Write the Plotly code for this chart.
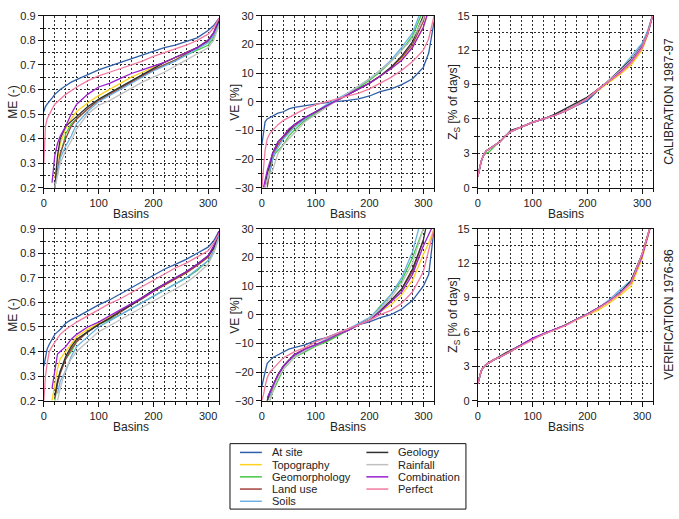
import plotly.graph_objects as go

N = None
BASINS = [0, 3, 6, 10, 15, 20, 25, 30, 40, 50, 60, 80, 100, 120, 140, 160, 180, 200, 220, 240, 260, 280, 300, 310, 320]

SERIES = ["At site", "Topography", "Geomorphology", "Land use", "Soils",
          "Geology", "Rainfall", "Combination", "Perfect"]
COLORS = ["#2e5ea8", "#ffd21f", "#44c744", "#a3423c", "#6cb0e6",
          "#303030", "#c0c0c0", "#9b1fd0", "#f47aa0"]

ME_CAL = {
    "At site":       [0.51, 0.53, 0.54, 0.55, 0.565, 0.58, 0.59, 0.60, 0.615, 0.63, 0.64, 0.66, 0.68, 0.695, 0.71, 0.725, 0.74, 0.755, 0.77, 0.78, 0.795, 0.81, 0.84, 0.86, 0.89],
    "Topography":    [N, N, N, N, N, 0.24, 0.32, 0.38, 0.44, 0.48, 0.51, 0.545, 0.575, 0.60, 0.625, 0.65, 0.67, 0.69, 0.71, 0.73, 0.75, 0.77, 0.80, 0.83, 0.88],
    "Geomorphology": [N, N, N, N, N, N, 0.25, 0.33, 0.42, 0.46, 0.48, 0.52, 0.56, 0.585, 0.61, 0.635, 0.66, 0.68, 0.70, 0.72, 0.74, 0.76, 0.78, 0.81, 0.86],
    "Land use":      [N, N, N, N, N, 0.20, 0.28, 0.34, 0.40, 0.45, 0.48, 0.52, 0.555, 0.58, 0.605, 0.63, 0.655, 0.68, 0.70, 0.72, 0.745, 0.77, 0.795, 0.82, 0.88],
    "Soils":         [N, N, N, N, N, 0.20, 0.26, 0.32, 0.37, 0.41, 0.46, 0.51, 0.55, 0.575, 0.60, 0.625, 0.65, 0.675, 0.695, 0.715, 0.74, 0.765, 0.79, 0.82, 0.87],
    "Geology":       [N, N, N, N, N, 0.20, 0.33, 0.40, 0.45, 0.47, 0.49, 0.53, 0.56, 0.585, 0.61, 0.635, 0.66, 0.685, 0.71, 0.73, 0.75, 0.77, 0.80, 0.83, 0.88],
    "Rainfall":      [N, N, N, N, N, 0.20, 0.25, 0.30, 0.35, 0.39, 0.44, 0.50, 0.535, 0.555, 0.58, 0.605, 0.63, 0.65, 0.67, 0.695, 0.72, 0.745, 0.77, 0.80, 0.86],
    "Combination":   [N, N, N, N, 0.22, 0.33, 0.38, 0.41, 0.45, 0.50, 0.54, 0.58, 0.61, 0.625, 0.645, 0.665, 0.68, 0.695, 0.71, 0.73, 0.75, 0.77, 0.80, 0.83, 0.89],
    "Perfect":       [0.30, 0.45, 0.48, 0.50, 0.52, 0.54, 0.55, 0.56, 0.58, 0.595, 0.61, 0.635, 0.655, 0.67, 0.685, 0.70, 0.715, 0.735, 0.75, 0.765, 0.78, 0.80, 0.825, 0.85, 0.89],
}

VE_CAL = {
    "At site":       [-15, -10, -7, -6, -5.5, -5, -4.5, -4, -3.5, -2.5, -2, -1.3, -0.8, -0.3, 0, 0.5, 1, 2, 3.5, 4.5, 6, 8, 12, 17, 28],
    "Topography":    [N, N, N, -28, -23, -19, -16.5, -15, -12.5, -10.5, -8.5, -6, -3.5, -1.5, 0.5, 2.5, 4.5, 6.5, 9, 11.5, 15, 19, 26, 32, N],
    "Geomorphology": [N, N, N, -29, -25, -20, -18, -17, -15, -12, -10, -6.5, -4, -1.5, 0.8, 3, 5, 7.5, 10.5, 14, 18, 23, 32, N, N],
    "Land use":      [N, N, N, -30, -24, -20, -17, -15, -12.5, -10.5, -8.5, -5.8, -3.5, -1.5, 0.5, 2.5, 4.5, 6.5, 9, 12, 15.5, 20, 28, 36, N],
    "Soils":         [N, N, N, -28, -24, -20, -17.5, -16, -13, -11, -9, -6, -3.5, -1, 1, 3, 5.5, 8, 11, 14.5, 19, 24, 34, N, N],
    "Geology":       [N, N, -30, -25, -22, -18, -16, -14, -12, -10, -8, -5.5, -3.5, -1.5, 0.5, 2.5, 4.5, 6.5, 9, 12, 16, 21, 30, 40, N],
    "Rainfall":      [N, N, -30, -27, -25, -24, -21, -18, -15, -13, -11, -7, -4.5, -2, 0.5, 3, 5.5, 8, 11, 14, 18, 22, 29, 36, N],
    "Combination":   [N, -30, -27, -24, -21, -18, -16, -14, -12, -9.5, -8, -5.5, -3.5, -1.5, 0.5, 2.5, 4.5, 6.5, 9, 11.5, 14.5, 19, 26, 32, N],
    "Perfect":       [-30, -22, -17, -13, -11, -10, -9, -8, -6.5, -5.5, -4.5, -2.5, -1, 0, 1, 1.8, 3, 4.5, 6.5, 8.5, 11, 14, 18, 22, 30],
}

ZS_CAL = {
    "At site":       [1.0, 1.7, 2.3, 2.8, 3.2, 3.35, 3.5, 3.65, 4.0, 4.5, 4.9, 5.3, 5.75, 5.95, 6.3, 6.7, 7.15, 7.6, 8.5, 9.3, 10.1, 11.1, 12.5, 13.6, 15.2],
    "Topography":    [1.0, 1.7, 2.3, 2.8, 3.2, 3.35, 3.5, 3.65, 4.0, 4.5, 4.9, 5.3, 5.7, 6.0, 6.3, 6.7, 7.2, 7.8, 8.5, 9.2, 9.9, 10.7, 12.0, 13.3, 15.2],
    "Geomorphology": [1.0, 1.7, 2.3, 2.8, 3.0, 3.1, 3.4, 3.6, 4.0, 4.5, 4.9, 5.3, 5.7, 6.0, 6.3, 6.7, 7.2, 7.8, 8.6, 9.3, 10.1, 11.0, 12.3, 13.4, 15.2],
    "Land use":      [1.0, 1.7, 2.3, 2.8, 3.2, 3.35, 3.5, 3.65, 4.0, 4.5, 4.9, 5.3, 5.7, 6.0, 6.3, 6.7, 7.2, 7.8, 8.6, 9.3, 10.0, 10.9, 12.2, 13.4, 15.2],
    "Soils":         [1.0, 1.7, 2.3, 2.8, 3.2, 3.35, 3.5, 3.65, 4.0, 4.5, 4.9, 5.3, 5.7, 6.0, 6.3, 6.7, 7.2, 7.8, 8.6, 9.4, 10.3, 11.4, 12.6, 13.7, 15.2],
    "Geology":       [1.0, 1.7, 2.3, 2.8, 3.2, 3.35, 3.5, 3.65, 4.0, 4.5, 5.0, 5.3, 5.7, 6.0, 6.4, 6.9, 7.4, 7.9, 8.6, 9.4, 10.3, 11.2, 12.4, 13.5, 15.2],
    "Rainfall":      [1.0, 1.7, 2.3, 2.8, 3.2, 3.35, 3.5, 3.65, 4.0, 4.5, 4.9, 5.3, 5.7, 6.0, 6.3, 6.7, 7.2, 7.8, 8.6, 9.4, 10.2, 11.1, 12.4, 13.5, 15.2],
    "Combination":   [1.0, 1.7, 2.3, 2.8, 3.2, 3.35, 3.5, 3.65, 4.0, 4.5, 4.9, 5.3, 5.7, 6.0, 6.3, 6.7, 7.2, 7.8, 8.6, 9.3, 10.1, 11.0, 12.3, 13.4, 15.2],
    "Perfect":       [1.0, 1.7, 2.3, 2.8, 3.2, 3.35, 3.5, 3.65, 4.0, 4.5, 4.9, 5.3, 5.7, 6.0, 6.3, 6.7, 7.2, 7.8, 8.6, 9.3, 10.0, 10.9, 12.2, 13.4, 15.2],
}

ME_VER = {
    "At site":       [0.34, 0.37, 0.41, 0.43, 0.45, 0.47, 0.48, 0.49, 0.515, 0.53, 0.54, 0.565, 0.59, 0.61, 0.635, 0.66, 0.685, 0.71, 0.735, 0.755, 0.775, 0.80, 0.825, 0.85, 0.89],
    "Topography":    [N, N, N, N, 0.20, 0.27, 0.33, 0.37, 0.40, 0.43, 0.46, 0.49, 0.515, 0.54, 0.565, 0.59, 0.62, 0.645, 0.67, 0.695, 0.72, 0.75, 0.785, 0.82, 0.88],
    "Geomorphology": [N, N, N, N, N, 0.20, 0.27, 0.32, 0.37, 0.40, 0.44, 0.48, 0.51, 0.53, 0.55, 0.575, 0.60, 0.625, 0.65, 0.675, 0.70, 0.73, 0.77, 0.80, 0.87],
    "Land use":      [N, N, N, N, N, 0.21, 0.27, 0.31, 0.37, 0.41, 0.44, 0.48, 0.51, 0.535, 0.56, 0.59, 0.615, 0.645, 0.67, 0.695, 0.72, 0.75, 0.785, 0.82, 0.88],
    "Soils":         [N, N, N, N, N, N, 0.23, 0.28, 0.32, 0.38, 0.42, 0.46, 0.50, 0.525, 0.55, 0.575, 0.60, 0.625, 0.65, 0.675, 0.70, 0.735, 0.77, 0.81, 0.87],
    "Geology":       [N, N, N, N, N, 0.22, 0.28, 0.32, 0.38, 0.42, 0.45, 0.48, 0.51, 0.535, 0.565, 0.59, 0.62, 0.65, 0.675, 0.70, 0.725, 0.755, 0.79, 0.82, 0.89],
    "Rainfall":      [N, N, N, N, N, N, 0.20, 0.25, 0.33, 0.37, 0.40, 0.44, 0.48, 0.505, 0.53, 0.555, 0.58, 0.605, 0.63, 0.655, 0.68, 0.715, 0.755, 0.80, 0.86],
    "Combination":   [N, N, N, N, 0.25, 0.32, 0.39, 0.40, 0.42, 0.45, 0.47, 0.50, 0.52, 0.545, 0.57, 0.595, 0.62, 0.645, 0.675, 0.70, 0.725, 0.755, 0.79, 0.83, 0.89],
    "Perfect":       [0.20, 0.30, 0.35, 0.40, 0.42, 0.44, 0.455, 0.47, 0.49, 0.505, 0.52, 0.545, 0.57, 0.595, 0.615, 0.64, 0.665, 0.69, 0.715, 0.74, 0.76, 0.785, 0.81, 0.84, 0.88],
}

VE_VER = {
    "At site":       [-25, -22, -20, -17, -16, -15, -14.5, -14, -13, -12, -11.5, -10.5, -9, -8, -6.5, -5, -3.5, -2.5, -1, 0, 2, 5, 10, 14, 30],
    "Topography":    [N, N, N, -30, -28, -26, -23, -21, -18, -16, -14, -12, -10.5, -9, -7, -5.5, -3.5, -1.5, 1, 3.5, 7, 12, 21, 25, 30],
    "Geomorphology": [N, N, N, N, -30, -27, -25, -23, -19, -17, -15, -13, -11, -9.5, -7.5, -5.5, -3.5, -1.5, 3, 7, 12, 20, 30, N, N],
    "Land use":      [N, N, N, -30, -28, -26, -23, -21, -18, -16, -14.5, -12.5, -10.5, -9, -7, -5.5, -3.5, -1.5, 1.5, 5, 9, 15, 26, N, N],
    "Soils":         [N, N, N, -30, -28, -25, -23, -21, -18, -16, -14.5, -12.5, -10.5, -8.5, -6.5, -5, -3, -1, 2.5, 7, 13, 22, 36, N, N],
    "Geology":       [N, N, N, -30, -27, -25, -23, -21, -18, -16, -14, -12, -10.5, -9, -7, -5.5, -3.5, -1.5, 1.5, 5, 9, 16, 26, 35, N],
    "Rainfall":      [N, N, N, N, -30, -27, -24, -22, -19, -17, -15, -12.5, -10.5, -9, -7, -5.5, -3.5, -1.5, 2, 6, 11, 18, 30, N, N],
    "Combination":   [N, N, N, -29, -27, -25, -23, -21, -18, -16, -14, -12, -10.5, -9, -7, -5.5, -3.5, -2, 1, 4.5, 8, 14, 24, 28, 32],
    "Perfect":       [-30, -28, -25, -22, -20, -19, -18, -17, -15, -14, -13, -11.5, -9.5, -8, -6.5, -5, -3.5, -2, 0, 1.5, 4, 8, 15, 22, 30],
}

ZS_VER = {
    "At site":       [1.5, 2.2, 2.6, 2.9, 3.15, 3.3, 3.45, 3.6, 3.8, 4.05, 4.3, 4.9, 5.4, 5.85, 6.2, 6.6, 7.1, 7.55, 8.1, 8.7, 9.5, 10.4, 12.8, 14.4, 16],
    "Topography":    [1.5, 2.2, 2.6, 2.9, 3.15, 3.3, 3.45, 3.6, 3.8, 4.05, 4.3, 4.9, 5.4, 5.8, 6.2, 6.6, 7.0, 7.45, 7.9, 8.5, 9.2, 10.0, 12.4, 14.4, 16],
    "Geomorphology": [1.5, 2.2, 2.6, 2.9, 3.15, 3.3, 3.45, 3.6, 3.8, 4.05, 4.3, 4.9, 5.4, 5.8, 6.2, 6.6, 7.1, 7.55, 8.1, 8.7, 9.4, 10.3, 12.8, 14.5, 16],
    "Land use":      [1.5, 2.2, 2.6, 2.9, 3.15, 3.3, 3.45, 3.6, 3.8, 4.05, 4.3, 4.9, 5.4, 5.8, 6.2, 6.6, 7.1, 7.55, 8.1, 8.7, 9.4, 10.3, 12.8, 14.5, 16],
    "Soils":         [1.5, 2.2, 2.6, 2.9, 3.15, 3.3, 3.45, 3.6, 3.8, 4.05, 4.3, 4.9, 5.4, 5.8, 6.2, 6.6, 7.1, 7.55, 8.1, 8.8, 9.7, 10.5, 12.8, 14.5, 16],
    "Geology":       [1.5, 2.2, 2.6, 2.9, 3.15, 3.3, 3.45, 3.6, 3.9, 4.15, 4.4, 4.9, 5.4, 5.8, 6.2, 6.6, 7.1, 7.55, 8.1, 8.7, 9.4, 10.5, 12.8, 14.5, 16],
    "Rainfall":      [1.5, 2.2, 2.6, 2.9, 3.15, 3.3, 3.45, 3.6, 3.8, 4.05, 4.3, 4.9, 5.4, 5.8, 6.2, 6.6, 7.1, 7.55, 8.1, 8.7, 9.4, 10.3, 12.8, 14.5, 16],
    "Combination":   [1.5, 2.2, 2.6, 2.9, 3.15, 3.3, 3.45, 3.6, 3.8, 4.05, 4.3, 4.9, 5.45, 5.85, 6.2, 6.6, 7.1, 7.55, 8.1, 8.7, 9.4, 10.3, 12.6, 14.2, 16],
    "Perfect":       [1.5, 2.2, 2.6, 2.9, 3.15, 3.3, 3.45, 3.6, 3.8, 4.05, 4.3, 4.85, 5.35, 5.8, 6.15, 6.55, 7.05, 7.5, 8.05, 8.65, 9.35, 10.3, 12.8, 14.5, 16],
}

PANELS = [ME_CAL, VE_CAL, ZS_CAL, ME_VER, VE_VER, ZS_VER]
Y_TITLES = ["ME (-)", "VE [%]", "Z<sub>S</sub> [% of days]"]
Y_RANGES = [[0.2, 0.9], [-30, 30], [0, 15]]
Y_DTICK = [0.1, 10, 3]
X_TITLE = "Basins"
X_RANGE = [0, 320]
ROW_LABELS = ["CALIBRATION 1987-97", "VERIFICATION 1976-86"]

W, H = 679, 519
COL_PX = [(41, 217), (260, 433), (477, 653)]
ROW_PX = [(10, 186), (228, 404)]
YTITLE_X = [10, 233, 453]      # centre of the y-axis titles (px)
XTITLE_Y = [213, 431]          # centre of the x-axis titles (px)

FONT = "Liberation Sans, Arial, sans-serif"
TXT = "#222222"
GRID = "#2a2a2a"
DASH = "2px,2px"
fig = go.Figure()
layout = dict(width=W, height=H, margin=dict(l=0, r=0, t=0, b=0),
              paper_bgcolor="white", plot_bgcolor="white",
              font=dict(family=FONT, size=11, color=TXT), showlegend=False)

for p, data in enumerate(PANELS):
    r, c = divmod(p, 3)
    idx = p + 1
    xa = "x" if idx == 1 else f"x{idx}"
    ya = "y" if idx == 1 else f"y{idx}"
    for name, color in zip(SERIES, COLORS):
        fig.add_trace(go.Scatter(x=BASINS, y=data[name], mode="lines", name=name,
                                 line=dict(color=color, width=1.3),
                                 xaxis=xa, yaxis=ya, showlegend=False))
    x0, x1 = COL_PX[c]
    y0, y1 = ROW_PX[r]
    common = dict(showgrid=True, gridcolor=GRID, gridwidth=1, griddash=DASH,
                  showline=True, linecolor="#111111", linewidth=1, mirror=True,
                  ticks="outside", ticklen=5, tickcolor="#111111",
                  tickfont=dict(size=11, color=TXT), zeroline=False)
    layout["xaxis" if idx == 1 else f"xaxis{idx}"] = dict(
        domain=[x0 / W, x1 / W], range=X_RANGE, dtick=100, tick0=0, anchor=ya,
        minor=dict(dtick=20, showgrid=True, gridcolor=GRID, gridwidth=1,
                   griddash=DASH, ticks="outside", ticklen=3, tickcolor="#111111"),
        **common)
    layout["yaxis" if idx == 1 else f"yaxis{idx}"] = dict(
        domain=[1 - y1 / H, 1 - y0 / H], range=Y_RANGES[c], dtick=Y_DTICK[c],
        tick0=0, anchor=xa,
        minor=dict(dtick=Y_DTICK[c] / 2, showgrid=True, gridcolor=GRID, gridwidth=1,
                   griddash=DASH, ticks="outside", ticklen=3, tickcolor="#111111"),
        **common)
    # axis titles
    fig.add_annotation(x=YTITLE_X[c] / W, y=1 - (y0 + y1) / 2 / H, xref="paper", yref="paper",
                       text=Y_TITLES[c], textangle=-90, showarrow=False,
                       xanchor="center", yanchor="middle", font=dict(size=12, color=TXT))
    fig.add_annotation(x=(x0 + x1) / 2 / W, y=1 - XTITLE_Y[r] / H, xref="paper", yref="paper",
                       text=X_TITLE, showarrow=False,
                       xanchor="center", yanchor="middle", font=dict(size=12, color=TXT))

fig.update_layout(**layout)

# side labels
for r, lab in enumerate(ROW_LABELS):
    yc = (ROW_PX[r][0] + ROW_PX[r][1]) / 2
    fig.add_annotation(x=669 / W, y=1 - yc / H, xref="paper", yref="paper",
                       text=lab, textangle=-90, showarrow=False,
                       font=dict(size=12, color=TXT), xanchor="center", yanchor="middle")

# legend box (drawn manually for compact spacing)
LBOX = (228, 448, 465, 515)
fig.add_shape(type="rect", xref="paper", yref="paper",
              x0=LBOX[0] / W, x1=LBOX[2] / W, y0=1 - LBOX[3] / H, y1=1 - LBOX[1] / H,
              line=dict(color="#111111", width=1), fillcolor="white")
ROWS_Y = [457, 469.5, 482, 494.5, 507]
for i, (name, color) in enumerate(zip(SERIES, COLORS)):
    col = 0 if i < 5 else 1
    row = i if i < 5 else i - 5
    lx0, lx1, tx = (238, 260, 268) if col == 0 else (365, 387, 395)
    yy = 1 - ROWS_Y[row] / H
    fig.add_shape(type="line", xref="paper", yref="paper",
                  x0=lx0 / W, x1=lx1 / W, y0=yy, y1=yy,
                  line=dict(color=color, width=1.5))
    fig.add_annotation(x=tx / W, y=yy, xref="paper", yref="paper", text=name,
                       showarrow=False, xanchor="left", yanchor="middle",
                       font=dict(size=11, color=TXT))

fig.write_html("out.html")
